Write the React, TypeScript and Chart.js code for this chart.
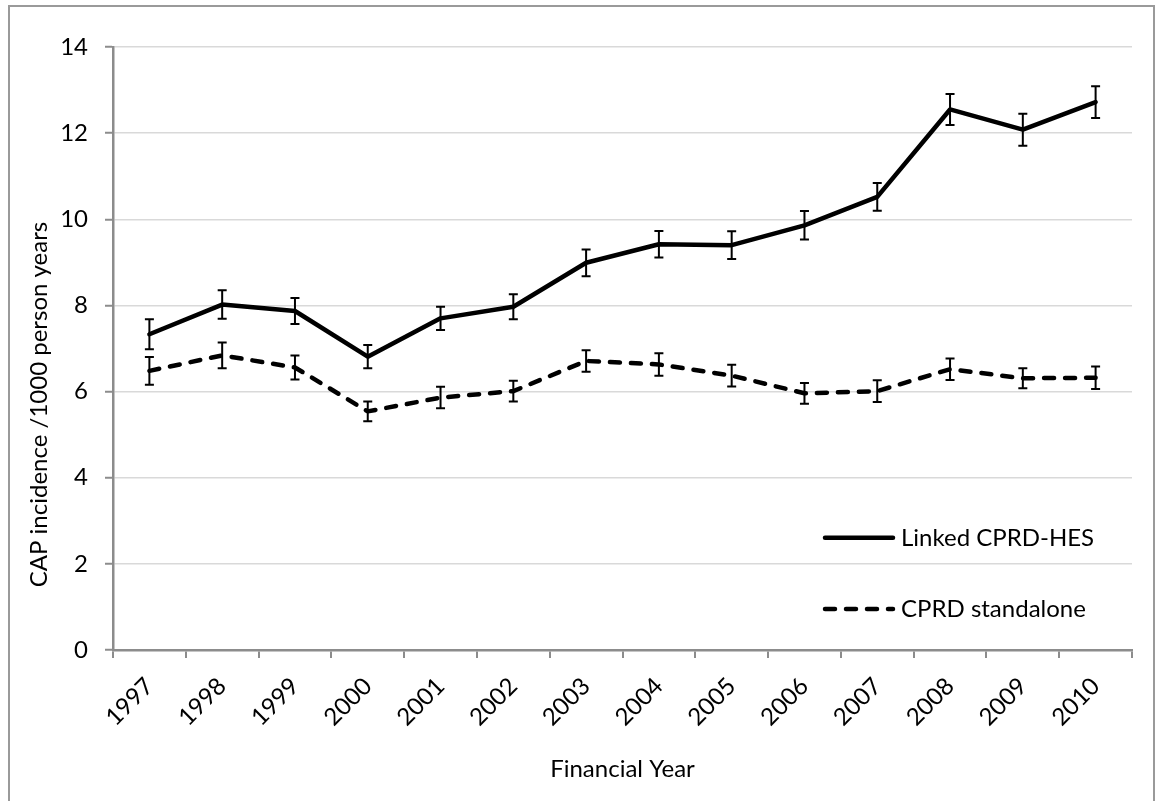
import { useEffect, useRef } from 'react';
import { Chart, registerables } from 'chart.js';

Chart.register(...registerables);

const years = ['1997', '1998', '1999', '2000', '2001', '2002', '2003', '2004', '2005', '2006', '2007', '2008', '2009', '2010'];
const linkedValues = [7.33, 8.02, 7.87, 6.81, 7.70, 7.97, 8.99, 9.42, 9.40, 9.86, 10.52, 12.55, 12.08, 12.72];
const linkedErrors = [0.35, 0.33, 0.30, 0.27, 0.27, 0.29, 0.31, 0.31, 0.32, 0.33, 0.32, 0.36, 0.37, 0.37];
const standaloneValues = [6.48, 6.84, 6.56, 5.54, 5.86, 6.01, 6.71, 6.63, 6.37, 5.96, 6.01, 6.52, 6.31, 6.32];
const standaloneErrors = [0.32, 0.30, 0.28, 0.23, 0.25, 0.24, 0.25, 0.26, 0.25, 0.24, 0.25, 0.25, 0.23, 0.26];
const seriesLabels = ['Linked CPRD-HES', 'CPRD standalone'];
const yMin = 0;
const yMax = 14;
const yStep = 2;
const xTitle = 'Financial Year';
const yTitle = 'CAP incidence /1000 person years';

const FONT = 'Lato, "Open Sans", sans-serif';
const FONT_SIZE = 24;

const errorBarPlugin = {
  id: 'errorBars',
  afterDatasetsDraw(chart: any) {
    const ctx = chart.ctx;
    const yScale = chart.scales.y;
    chart.data.datasets.forEach((ds: any, i: number) => {
      const errs = ds.errors;
      if (!errs) return;
      const meta = chart.getDatasetMeta(i);
      ctx.save();
      ctx.strokeStyle = '#000';
      ctx.lineWidth = 2;
      ctx.setLineDash([]);
      meta.data.forEach((pt: any, j: number) => {
        const v = ds.data[j];
        const e = errs[j];
        const top = yScale.getPixelForValue(v + e);
        const bot = yScale.getPixelForValue(v - e);
        const x = pt.x;
        const half = 4.5;
        ctx.beginPath();
        ctx.moveTo(x, top);
        ctx.lineTo(x, bot);
        ctx.moveTo(x - half, top);
        ctx.lineTo(x + half, top);
        ctx.moveTo(x - half, bot);
        ctx.lineTo(x + half, bot);
        ctx.stroke();
      });
      ctx.restore();
    });
  },
};

const insideLegendPlugin = {
  id: 'insideLegend',
  afterDraw(chart: any) {
    const { ctx, chartArea } = chart;
    const rows = [0.814, 0.932];
    chart.data.datasets.forEach((ds: any, i: number) => {
      const h = chartArea.bottom - chartArea.top;
      const yy = chartArea.top + rows[i] * h;
      const x0 = chartArea.right - 307;
      const x1 = chartArea.right - 239;
      ctx.save();
      ctx.strokeStyle = ds.borderColor;
      ctx.lineWidth = ds.borderWidth;
      ctx.lineCap = ds.borderCapStyle || 'butt';
      ctx.setLineDash(ds.borderDash || []);
      ctx.beginPath();
      ctx.moveTo(x0, yy);
      ctx.lineTo(x1, yy);
      ctx.stroke();
      ctx.setLineDash([]);
      ctx.fillStyle = '#000';
      ctx.font = `${FONT_SIZE}px ${FONT}`;
      ctx.textAlign = 'left';
      ctx.textBaseline = 'middle';
      ctx.fillText(ds.label, chartArea.right - 231, yy);
      ctx.restore();
    });
  },
};

// Y axis title placed like the original (offset below the plot's centre)
const yTitlePlugin = {
  id: 'yTitleOffset',
  afterDraw(chart: any) {
    const { ctx, chartArea } = chart;
    const cy = (chartArea.top + chartArea.bottom) / 2 + 56;
    ctx.save();
    ctx.translate(39, cy);
    ctx.rotate(-Math.PI / 2);
    ctx.fillStyle = '#000';
    ctx.font = `${FONT_SIZE}px ${FONT}`;
    ctx.textAlign = 'center';
    ctx.textBaseline = 'middle';
    ctx.fillText(yTitle, 0, 0);
    ctx.restore();
  },
};

export default function App() {
  const canvasRef = useRef<HTMLCanvasElement | null>(null);

  useEffect(() => {
    if (!canvasRef.current) return;
    const chart = new Chart(canvasRef.current, {
      type: 'line',
      data: {
        labels: years,
        datasets: [
          {
            label: seriesLabels[0],
            data: linkedValues,
            errors: linkedErrors,
            borderColor: '#000',
            backgroundColor: '#000',
            borderWidth: 4.5,
            borderJoinStyle: 'round',
            borderCapStyle: 'round',
            pointRadius: 0,
            fill: false,
            tension: 0,
          } as any,
          {
            label: seriesLabels[1],
            data: standaloneValues,
            errors: standaloneErrors,
            borderColor: '#000',
            backgroundColor: '#000',
            borderWidth: 4.5,
            borderDash: [10, 11],
            borderJoinStyle: 'round',
            borderCapStyle: 'round',
            pointRadius: 0,
            fill: false,
            tension: 0,
          } as any,
        ],
      },
      options: {
        animation: false,
        responsive: false,
        maintainAspectRatio: false,
        layout: { padding: { left: 25, right: 27, top: 47, bottom: 0 } },
        plugins: {
          legend: { display: false },
          tooltip: { enabled: false },
          title: { display: false },
        },
        scales: {
          x: {
            type: 'category',
            offset: true,
            afterFit: (s: any) => {
              s.height = 151;
            },
            grid: {
              offset: true,
              drawOnChartArea: false,
              drawTicks: true,
              tickLength: 8,
              tickColor: '#8c8c8c',
              lineWidth: 2,
              color: '#8c8c8c',
            },
            border: { display: true, color: '#8c8c8c', width: 2.5 },
            ticks: {
              color: '#000',
              font: { family: FONT, size: FONT_SIZE },
              minRotation: 45,
              maxRotation: 45,
              padding: 14,
              autoSkip: false,
            },
            title: {
              display: true,
              text: xTitle,
              color: '#000',
              font: { family: FONT, size: FONT_SIZE },
              padding: { top: 0, bottom: 17 },
            },
          },
          y: {
            min: yMin,
            max: yMax,
            afterFit: (s: any) => {
              s.width = 88;
            },
            ticks: {
              stepSize: yStep,
              color: '#000',
              font: { family: FONT, size: FONT_SIZE },
              padding: 17,
            },
            grid: {
              color: '#d9d9d9',
              lineWidth: 1.5,
              drawTicks: true,
              tickLength: 8,
              tickColor: '#8c8c8c',
              tickWidth: 2,
            },
            border: { display: true, color: '#8c8c8c', width: 2.5 },
            title: { display: false },
          },
        },
      } as any,
      plugins: [errorBarPlugin, insideLegendPlugin, yTitlePlugin],
    });
    return () => chart.destroy();
  }, []);

  return (
    <div style={{ position: 'absolute', left: 0, top: 0, width: 1159, height: 801, overflow: 'hidden', background: '#fff' }}>
      <div
        style={{
          position: 'absolute',
          left: 8,
          top: 5,
          width: 1147,
          height: 820,
          border: '2px solid #9a9a9a',
          boxSizing: 'border-box',
          pointerEvents: 'none',
        }}
      />
      <canvas ref={canvasRef} width={1159} height={801} style={{ position: 'absolute', left: 0, top: 0, width: 1159, height: 801 }} />
    </div>
  );
}
